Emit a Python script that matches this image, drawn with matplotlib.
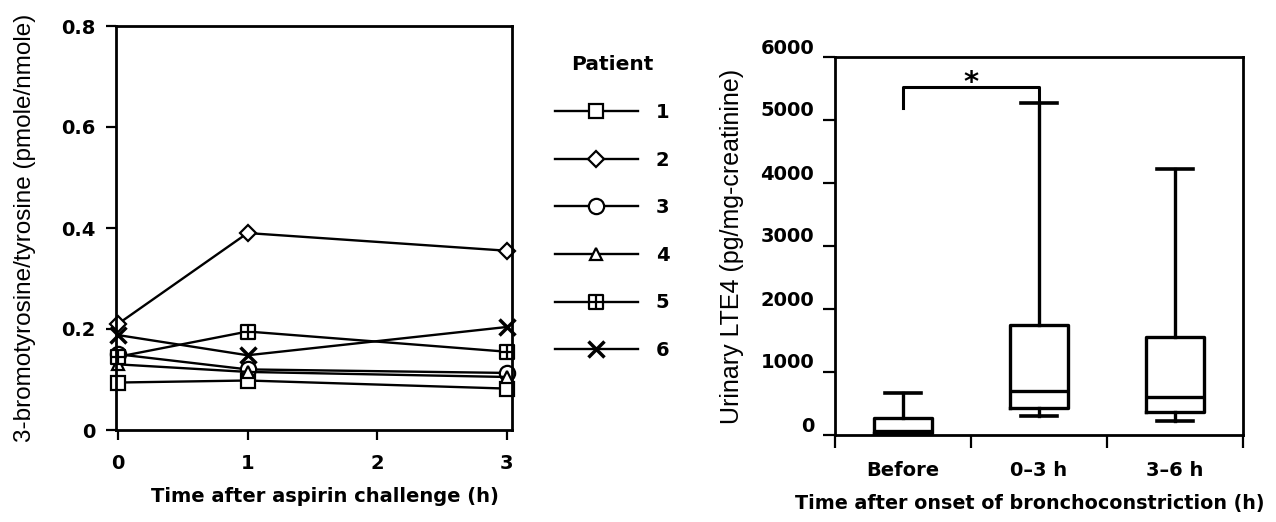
import numpy as np
import matplotlib.pyplot as plt
from matplotlib.path import Path
from matplotlib.transforms import ScaledTranslation

plt.rcParams['font.family'] = ['Liberation Sans', 'DejaVu Sans']
BOLD = ['DejaVu Sans']

# left panel data
hours = [0, 1, 3]
patients = ['1', '2', '3', '4', '5', '6']
p1 = [0.094, 0.098, 0.082]
p2 = [0.210, 0.390, 0.355]
p3 = [0.150, 0.120, 0.113]
p4 = [0.130, 0.115, 0.105]
p5 = [0.145, 0.195, 0.155]
p6 = [0.188, 0.148, 0.204]

# right panel data (box plot summary)
groups = ['Before', '0\u20133 h', '3\u20136 h']
whis_lo = [0, 300, 220]
q1 = [25, 430, 365]
median = [70, 700, 600]
q3 = [270, 1740, 1550]
whis_hi = [665, 5270, 4220]
sig_low = [5190, 5320]
sig_top = 5520

# square with a plus inside
sq_plus = Path(
    [(-1, -1), (1, -1), (1, 1), (-1, 1), (-1, -1), (0, -1), (0, 1), (-1, 0), (1, 0)],
    [Path.MOVETO, Path.LINETO, Path.LINETO, Path.LINETO, Path.CLOSEPOLY,
     Path.MOVETO, Path.LINETO, Path.MOVETO, Path.LINETO])

series = [p1, p2, p3, p4, p5, p6]
markers = ['s', 'D', 'o', '^', sq_plus, 'x']
msizes = [10, 8, 11, 9, 10, 11]

W, H = 1276, 522
fig = plt.figure(figsize=(W / 100, H / 100), dpi=100)

ax1 = fig.add_axes([116 / W, (H - 430) / H, 396 / W, 404 / H])
handles = []
for vals, m, ms, lab in zip(series, markers, msizes, patients):
    mew = 2.5 if m == 'x' else 1.6
    ln, = ax1.plot(hours, vals, color='black', lw=1.7, marker=m, ms=ms,
                   mfc='white', mec='black', mew=mew, label=lab, clip_on=False)
    handles.append(ln)
ax1.set_xlim(-0.015, 3.04)
ax1.set_ylim(0, 0.8)
ax1.set_xticks([0, 1, 2, 3])
ax1.set_yticks([0, 0.2, 0.4, 0.6, 0.8])
ax1.set_yticklabels(['0', '0.2', '0.4', '0.6', '0.8'])
ax1.tick_params(direction='out', length=7, width=1.6, labelsize=14)
ax1.tick_params(axis='x', pad=10)
ax1.tick_params(axis='y', pad=8)
for t in ax1.get_xticklabels() + ax1.get_yticklabels():
    t.set_fontweight('bold')
    t.set_family(BOLD)
for s in ax1.spines.values():
    s.set_linewidth(2)
ax1.set_xlabel('Time after aspirin challenge (h)', fontsize=14, fontweight='bold', family=BOLD)
ax1.xaxis.set_label_coords((325 - 116) / 396, -(487 - 430) / 404)
ax1.set_ylabel('3-bromotyrosine/tyrosine (pmole/nmole)', fontsize=17.5, labelpad=18)

leg = ax1.legend(handles=handles, title='Patient', loc='upper left',
                 bbox_to_anchor=(537 / W, 1 - 38 / H), bbox_transform=fig.transFigure,
                 frameon=False, numpoints=1,
                 prop={'family': BOLD, 'weight': 'bold', 'size': 14},
                 title_fontproperties={'family': BOLD, 'weight': 'bold', 'size': 14.5},
                 handlelength=4.3, handletextpad=0.9, labelspacing=1.47)

ax2 = fig.add_axes([835 / W, (H - 435) / H, 408 / W, 378 / H])
pos = np.arange(len(groups)) + 0.5
stats = []
for i in range(len(groups)):
    stats.append({'whislo': whis_lo[i], 'q1': q1[i], 'med': median[i],
                  'q3': q3[i], 'whishi': whis_hi[i], 'fliers': []})
ax2.bxp(stats, positions=pos, widths=0.43, showfliers=False, manage_ticks=False,
        boxprops=dict(color='black', lw=2.4),
        medianprops=dict(color='black', lw=2.4),
        whiskerprops=dict(color='black', lw=2.4),
        capprops=dict(color='black', lw=2.6), capwidths=0.26)
ax2.plot([pos[0], pos[0], pos[1], pos[1]], [sig_low[0], sig_top, sig_top, sig_low[1]],
         color='black', lw=2.2)
ax2.text((pos[0] + pos[1]) / 2, sig_top + 70, '*', ha='center', va='center',
         fontsize=21, fontweight='bold', family=BOLD)
ax2.set_xlim(0, 3.0)
ax2.set_ylim(0, 6000)
ax2.set_yticks([0, 1000, 2000, 3000, 4000, 5000, 6000])
ax2.set_xticks([0, 1, 2, 3])
ax2.set_xticklabels([])
ax2.set_xticks(pos, minor=True)
ax2.set_xticklabels(groups, minor=True)
ax2.tick_params(axis='x', which='minor', length=0, pad=19, labelsize=14)
ax2.tick_params(which='major', direction='out', length=9, width=1.6, labelsize=14)
ax2.tick_params(axis='y', pad=6)
up = ScaledTranslation(0, 11 / 100, fig.dpi_scale_trans)
for t in ax2.get_yticklabels():
    t.set_transform(t.get_transform() + up)
for t in ax2.get_xticklabels(minor=True) + ax2.get_yticklabels():
    t.set_fontweight('bold')
    t.set_family(BOLD)
for s in ax2.spines.values():
    s.set_linewidth(2)
ax2.set_xlabel('Time after onset of bronchoconstriction (h)', fontsize=13.8,
               fontweight='bold', family=BOLD)
ax2.xaxis.set_label_coords((1030 - 835) / 408, -(494 - 435) / 378)
ax2.set_ylabel('Urinary LTE4 (pg/mg-creatinine)', fontsize=18, labelpad=12)

fig.savefig('out.png', dpi=100)
